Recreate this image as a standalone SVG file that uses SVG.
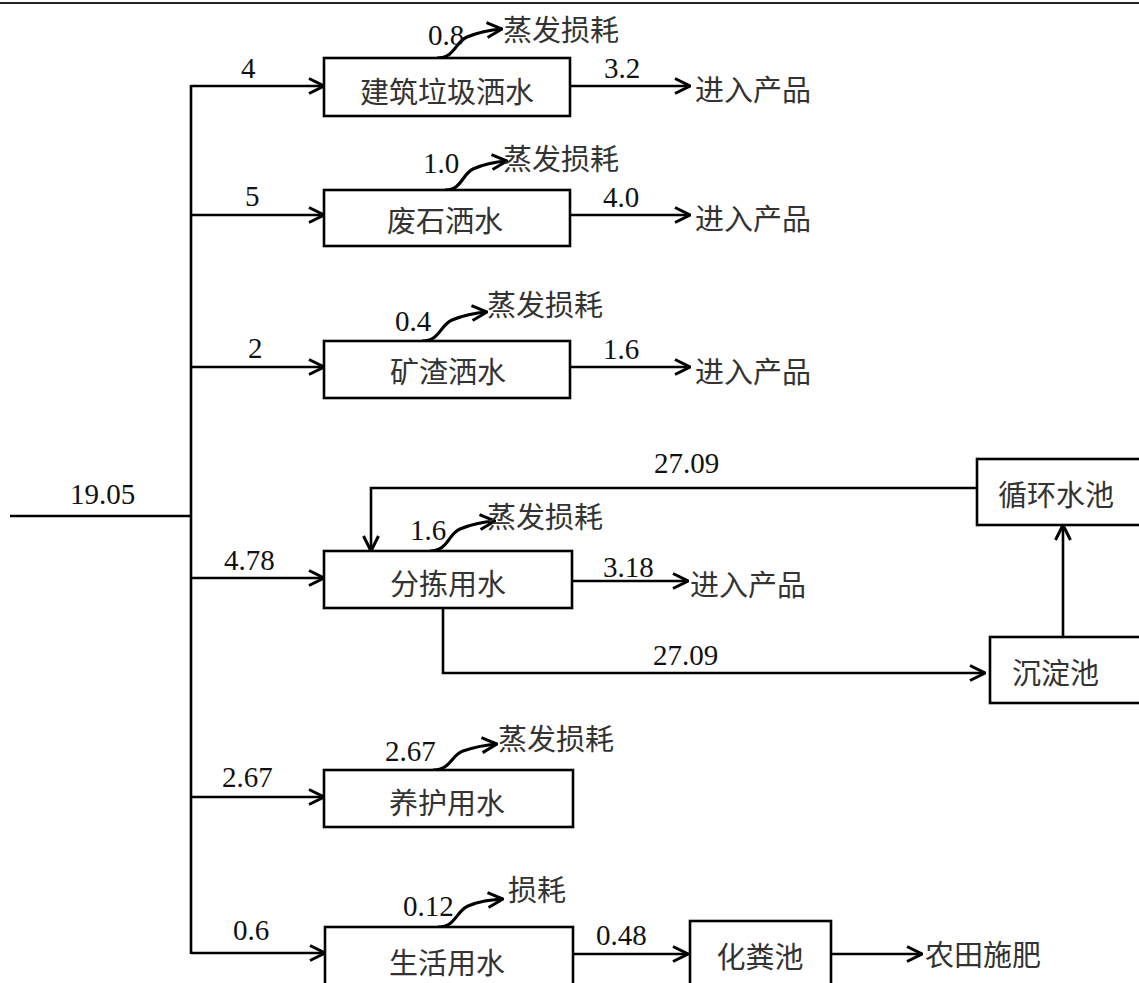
<svg xmlns="http://www.w3.org/2000/svg" width="1139" height="983" viewBox="0 0 1139 983">
<style>
.box{fill:#fff;stroke:#000;stroke-width:2.6}
.ln{fill:none;stroke:#000;stroke-width:2.6}
.lna{fill:none;stroke:#000;stroke-width:2.6;marker-end:url(#arr)}
.cv{fill:none;stroke:#000;stroke-width:3.2;marker-end:url(#arr)}
.num{font-family:"Liberation Serif","Times New Roman",serif;font-size:29px;fill:#111}
.zh{font-family:"Noto Sans CJK SC","Noto Sans CJK JP",sans-serif;font-size:29px;fill:#333;dominant-baseline:central}
.zc{text-anchor:middle}
</style>
<defs>
<marker id="arr" viewBox="0 0 18 18" refX="17" refY="9" markerWidth="18" markerHeight="18" orient="auto" markerUnits="userSpaceOnUse">
<path d="M2,1.5 L17,9 L2,16.5" fill="none" stroke="#000" stroke-width="3"/>
</marker>
</defs>
<rect width="1139" height="983" fill="#fff"/>
<line x1="0" y1="3" x2="1139" y2="3" stroke="#222" stroke-width="2"/>

<g id="connectors">
<line class="ln" x1="10" y1="516" x2="191" y2="516"/>
<line class="ln" x1="191" y1="85" x2="191" y2="954"/>
<line class="lna" x1="191" y1="86" x2="324" y2="86"/>
<line class="lna" x1="191" y1="215" x2="324" y2="215"/>
<line class="lna" x1="191" y1="367" x2="324" y2="367"/>
<line class="lna" x1="191" y1="578" x2="324" y2="578"/>
<line class="lna" x1="191" y1="797" x2="324" y2="797"/>
<line class="lna" x1="191" y1="953" x2="325" y2="953"/>
<line class="lna" x1="570" y1="86" x2="690" y2="86"/>
<line class="lna" x1="570" y1="215" x2="690" y2="215"/>
<line class="lna" x1="570" y1="367" x2="690" y2="367"/>
<line class="lna" x1="572" y1="581" x2="688" y2="581"/>
<line class="lna" x1="573" y1="954" x2="688" y2="954"/>
<line class="lna" x1="831" y1="954" x2="922" y2="954"/>
<polyline class="lna" points="977,488 371,488 371,551"/>
<polyline class="lna" points="443,608 443,673 985,673"/>
<line class="lna" x1="1063" y1="637" x2="1063" y2="525"/>
<path class="cv" d="M437,58 C455,58 455,42 467,37 S488,30 502,29"/>
<path class="cv" d="M445,190 C462,190 462,174 473,169 S493,162 507,161"/>
<path class="cv" d="M422,341 C440,341 440,325 452,320 S473,313 487,312"/>
<path class="cv" d="M430,551 C448,551 448,534 460,529 S481,522 495,521"/>
<path class="cv" d="M433,770 C451,770 451,755 463,751 S484,745 497,744"/>
<path class="cv" d="M438,927 C456,927 456,911 468,906 S489,900 503,899"/>
</g>

<g id="labels">
<text class="num" x="70" y="504">19.05</text>
<text class="num" x="241" y="78">4</text>
<text class="num" x="245" y="206">5</text>
<text class="num" x="248" y="358">2</text>
<text class="num" x="224" y="570">4.78</text>
<text class="num" x="222" y="787">2.67</text>
<text class="num" x="233" y="940">0.6</text>
<text class="num" x="428" y="45">0.8</text>
<text class="num" x="423" y="173">1.0</text>
<text class="num" x="395" y="331">0.4</text>
<text class="num" x="410" y="540">1.6</text>
<text class="num" x="385" y="761">2.67</text>
<text class="num" x="403" y="916">0.12</text>
<text class="num" x="604" y="78">3.2</text>
<text class="num" x="603" y="207">4.0</text>
<text class="num" x="603" y="359">1.6</text>
<text class="num" x="603" y="577">3.18</text>
<text class="num" x="596" y="945">0.48</text>
<text class="num" x="654" y="473">27.09</text>
<text class="num" x="653" y="665">27.09</text>
<text class="zh" x="503" y="28">蒸发损耗</text>
<text class="zh" x="503" y="157">蒸发损耗</text>
<text class="zh" x="487" y="303">蒸发损耗</text>
<text class="zh" x="487" y="515">蒸发损耗</text>
<text class="zh" x="498" y="737">蒸发损耗</text>
<text class="zh" x="508" y="888">损耗</text>
<text class="zh" x="695" y="88">进入产品</text>
<text class="zh" x="695" y="217">进入产品</text>
<text class="zh" x="695" y="370">进入产品</text>
<text class="zh" x="690" y="583">进入产品</text>
<text class="zh" x="925" y="953">农田施肥</text>
</g>

<g id="n1"><rect class="box" x="324" y="58" width="246" height="58"/><text class="zh zc" x="447" y="90">建筑垃圾洒水</text></g>
<g id="n2"><rect class="box" x="324" y="190" width="246" height="56"/><text class="zh zc" x="445" y="219">废石洒水</text></g>
<g id="n3"><rect class="box" x="324" y="341" width="246" height="57"/><text class="zh zc" x="448" y="370">矿渣洒水</text></g>
<g id="n4"><rect class="box" x="324" y="551" width="248" height="57"/><text class="zh zc" x="448" y="582">分拣用水</text></g>
<g id="n5"><rect class="box" x="324" y="770" width="249" height="57"/><text class="zh zc" x="447" y="801">养护用水</text></g>
<g id="n6"><rect class="box" x="325" y="927" width="248" height="70"/><text class="zh zc" x="447" y="961">生活用水</text></g>
<g id="n7"><rect class="box" x="690" y="921" width="141" height="76"/><text class="zh zc" x="760" y="955">化粪池</text></g>
<g id="n8"><rect class="box" x="977" y="459" width="180" height="66"/><text class="zh" x="998" y="493">循环水池</text></g>
<g id="n9"><rect class="box" x="990" y="637" width="170" height="66"/><text class="zh" x="1012" y="671">沉淀池</text></g>
</svg>
